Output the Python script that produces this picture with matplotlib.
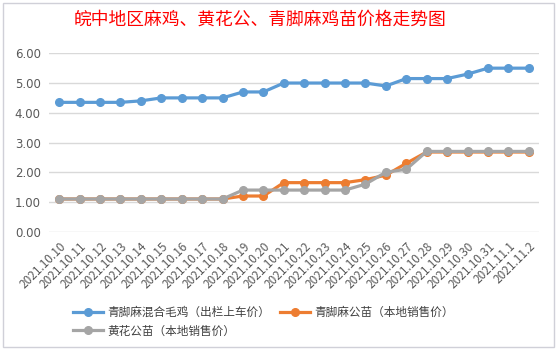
import matplotlib
matplotlib.use("Agg")
import matplotlib.pyplot as plt
from matplotlib.patches import Rectangle

plt.rcParams['font.family'] = ['Noto Sans CJK SC', 'DejaVu Sans']

dates = ["2021.10.10", "2021.10.11", "2021.10.12", "2021.10.13", "2021.10.14",
         "2021.10.15", "2021.10.16", "2021.10.17", "2021.10.18", "2021.10.19",
         "2021.10.20", "2021.10.21", "2021.10.22", "2021.10.23", "2021.10.24",
         "2021.10.25", "2021.10.26", "2021.10.27", "2021.10.28", "2021.10.29",
         "2021.10.30", "2021.10.31", "2021.11.1", "2021.11.2"]
mixed_chicken = [4.35, 4.35, 4.35, 4.35, 4.4, 4.5, 4.5, 4.5, 4.5, 4.7,
                 4.7, 5.0, 5.0, 5.0, 5.0, 5.0, 4.9, 5.15, 5.15, 5.15,
                 5.3, 5.5, 5.5, 5.5]
qingjiao_rooster = [1.1, 1.1, 1.1, 1.1, 1.1, 1.1, 1.1, 1.1, 1.1, 1.2,
                    1.2, 1.65, 1.65, 1.65, 1.65, 1.75, 1.9, 2.3, 2.68, 2.68,
                    2.68, 2.68, 2.68, 2.68]
huanghua_rooster = [1.1, 1.1, 1.1, 1.1, 1.1, 1.1, 1.1, 1.1, 1.1, 1.4,
                    1.4, 1.4, 1.4, 1.4, 1.4, 1.6, 2.0, 2.1, 2.7, 2.7,
                    2.7, 2.7, 2.7, 2.7]
series_names = ["青脚麻混合毛鸡（出栏上车价）", "青脚麻公苗（本地销售价）", "黄花公苗（本地销售价）"]
title = "皖中地区麻鸡、黄花公、青脚麻鸡苗价格走势图"
yticks = [0, 1, 2, 3, 4, 5, 6]

fig = plt.figure(figsize=(5.58, 3.51), dpi=100)
fig.patch.set_facecolor('white')
fig.add_artist(Rectangle((3/558, 4/351), 551/558, 344/351, transform=fig.transFigure,
                         fill=False, edgecolor='#D0D0D8', linewidth=1))

ax = fig.add_axes([49/558, 1 - 231.7/351, 490/558, (231.7 - 53.3)/351])
x = list(range(len(dates)))
colors = ['#5B9BD5', '#ED7D31', '#A5A5A5']
lines = []
for vals, c, name in zip([mixed_chicken, qingjiao_rooster, huanghua_rooster], colors, series_names):
    ln, = ax.plot(x, vals, color=c, linewidth=2.3, marker='o', markersize=5.5, label=name)
    lines.append(ln)

ax.set_xlim(-0.5, len(dates) - 0.5)
ax.set_ylim(0, 6)
ax.set_yticks(yticks)
ax.set_yticklabels([f"{v:.2f}" for v in yticks], color='#595959', fontsize=8.5,
                   family=['DejaVu Sans'])
ax.set_xticks(x)
ax.set_xticklabels(dates, rotation=45, ha='right', va='top', rotation_mode='anchor',
                   color='#595959', fontsize=8.5)
ax.tick_params(axis='both', length=0)
ax.tick_params(axis='y', pad=6)
ax.tick_params(axis='x', pad=6)
ax.grid(axis='y', color='#D9D9D9', linewidth=1)
ax.set_axisbelow(True)
for s in ax.spines.values():
    s.set_visible(False)

fig.text(260/558, 1 - 20/351, title, color='#FF0000', fontsize=12.8, ha='center', va='center')

order = [0, 2, 1]
leg = fig.legend([lines[i] for i in order], [series_names[i] for i in order],
                 loc='center', bbox_to_anchor=(0.472, 1 - 321.5/351), ncol=2, frameon=False,
                 fontsize=8.4, handlelength=2.6, columnspacing=0.8, labelspacing=0.5,
                 handletextpad=0.4, labelcolor='#404040')

fig.savefig('out.png', dpi=100)
